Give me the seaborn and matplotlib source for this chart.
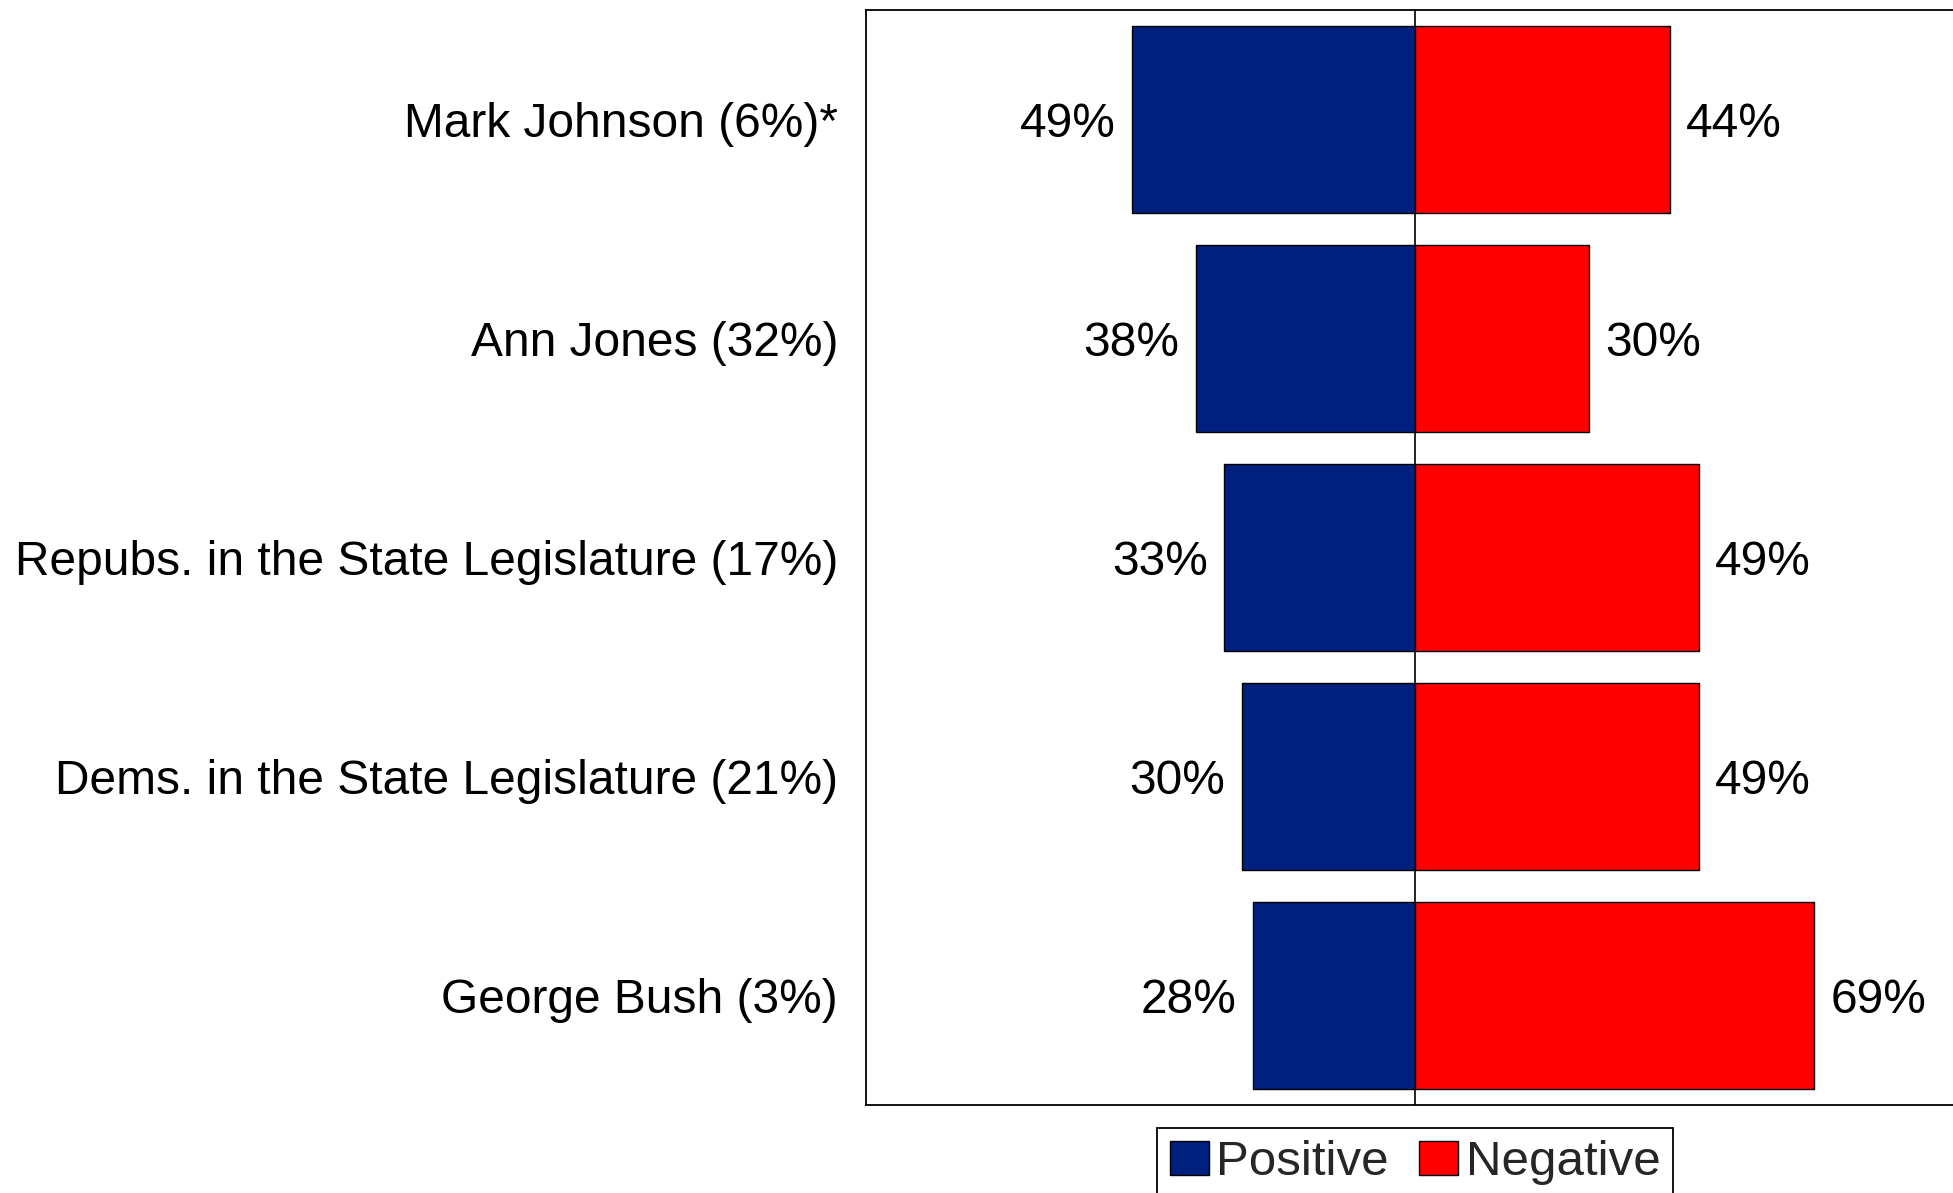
import pandas as pd
import matplotlib
matplotlib.use("Agg")
import matplotlib.pyplot as plt
import seaborn as sns
from matplotlib.patches import Patch

# --- data ---
names = [
    "Mark Johnson (6%)*",
    "Ann Jones (32%)",
    "Repubs. in the State Legislature (17%)",
    "Dems. in the State Legislature (21%)",
    "George Bush (3%)",
]
positive = [49, 38, 33, 30, 28]
negative = [44, 30, 49, 49, 69]

blue = "#00207F"
red = "#FF0000"
fs = 34.5

sns.set_theme(style="white")
plt.rcParams["font.family"] = ["Liberation Sans", "DejaVu Sans"]

df = pd.DataFrame({"name": names, "pos": [-v for v in positive], "neg": negative})

fig = plt.figure(figsize=(19.53, 11.93), dpi=100)
ax = fig.add_axes([0.4434, 0.0738, 0.5625, 0.9178])

sns.barplot(data=df, x="pos", y="name", orient="h", color=blue, width=0.85,
            edgecolor="black", linewidth=1, saturation=1, ax=ax)
sns.barplot(data=df, x="neg", y="name", orient="h", color=red, width=0.85,
            edgecolor="black", linewidth=1, saturation=1, ax=ax)

lbls = ax.bar_label(ax.containers[0], labels=[f"{v}%" for v in positive],
                    padding=12, fontsize=fs, color="black")
lbls += ax.bar_label(ax.containers[1], labels=[f"{v}%" for v in negative],
                     padding=12, fontsize=fs, color="black")
for t in lbls:
    t.set_verticalalignment("center_baseline")

ax.axvline(0, color="black", linewidth=1.2, zorder=0)
ax.set_xlim(-95, 95)
ax.set_ylim(4.5, -0.5)
ax.set_xlabel("")
ax.set_ylabel("")
ax.set_xticks([])
ax.tick_params(axis="y", length=0, pad=20, labelsize=fs, labelcolor="black")

for side in ["left", "top", "bottom", "right"]:
    ax.spines[side].set_visible(True)
    ax.spines[side].set_color("black")
    ax.spines[side].set_linewidth(1.3)

handles = [Patch(facecolor=blue, edgecolor="black", label="Positive"),
           Patch(facecolor=red, edgecolor="black", label="Negative")]
leg = fig.legend(handles=handles, loc="upper center", bbox_to_anchor=(0.7245, 0.0545),
                 ncol=2, fontsize=35.5, frameon=True, fancybox=False,
                 handlelength=0.8, handleheight=0.7, handletextpad=0.15,
                 columnspacing=0.6, borderpad=0.25, borderaxespad=0)
leg.get_frame().set_edgecolor("black")
leg.get_frame().set_linewidth(1.3)
leg.get_frame().set_alpha(1)

fig.savefig("out.png", dpi=100)
